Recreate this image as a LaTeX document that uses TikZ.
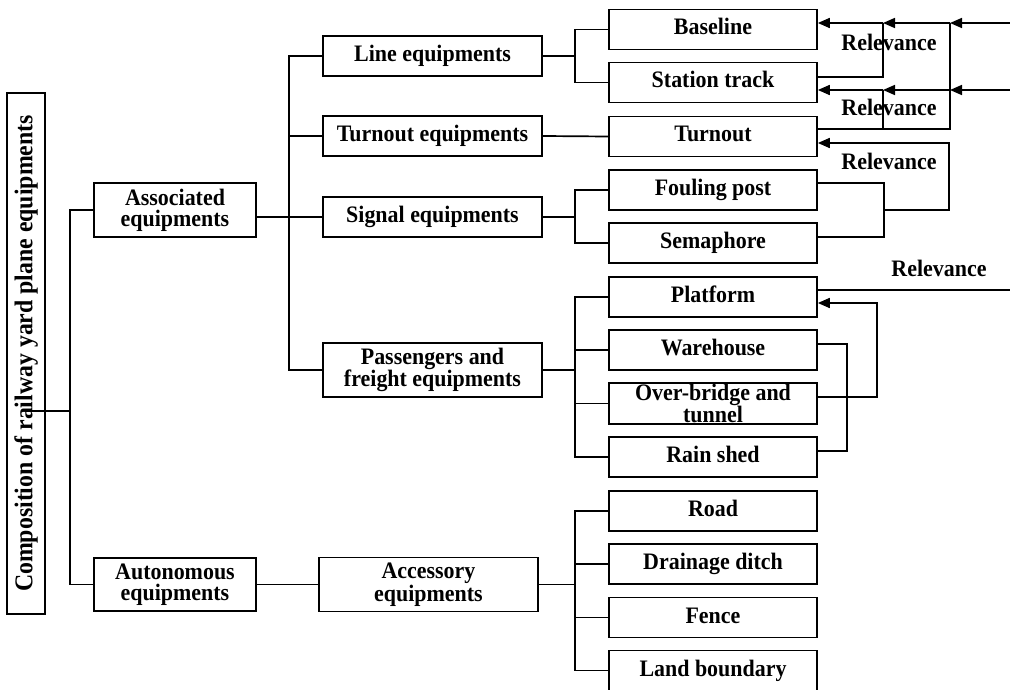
\documentclass[tikz,border=0pt]{standalone}
\usepackage{fontspec}
\setmainfont{Liberation Serif}[FakeStretch=0.93]
\usetikzlibrary{arrows.meta}
\begin{document}
\begin{tikzpicture}[x=1pt,y=-1pt,
  lw/.style={line width=1.7pt},
  txt/.style={font=\bfseries\fontsize{23.6}{21}\selectfont},
  box/.style={draw, lw, txt, inner sep=0pt, minimum width=208pt, minimum height=40pt, text height=16pt, text depth=5pt},
  midbox/.style={box, minimum width=219pt},
  twobox/.style={draw, lw, txt, inner sep=0pt, align=center, minimum height=54pt},
  conn/.style={lw},
  arr/.style={lw, -{Triangle[length=12pt,width=10pt]}},
  rel/.style={txt, inner sep=0pt}]
\useasboundingbox (0,0) rectangle (1010,690);

% root
\node[draw, lw, rotate=90, inner sep=0pt, minimum width=521pt, minimum height=38pt,
  font=\bfseries\fontsize{25.6}{25}\selectfont] (main) at (26,353.5) {Composition of railway yard plane equipments};

% level 1
\node[twobox, minimum width=162pt] (assoc) at (175,210) {Associated\\equipments};
\node[twobox, minimum width=162pt, minimum height=53pt] (auton) at (175,584.5) {Autonomous\\equipments};

% level 2
\node[midbox] (lineeq) at (432.5,56) {Line equipments};
\node[midbox] (turneq) at (432.5,136) {Turnout equipments};
\node[midbox] (sigeq) at (432.5,217) {Signal equipments};
\node[twobox, minimum width=219pt] (paseq) at (432.5,370) {Passengers and\\freight equipments};
\node[twobox, minimum width=219pt] (acceq) at (428.5,584.5) {Accessory\\equipments};

% level 3
\node[box] (baseline) at (713,29.5) {Baseline};
\node[box] (station) at (713,82.5) {Station track};
\node[box] (turnout) at (713,136.5) {Turnout};
\node[box] (fouling) at (713,190) {Fouling post};
\node[box] (semaphore) at (713,243) {Semaphore};
\node[box] (platform) at (713,297) {Platform};
\node[box] (warehouse) at (713,350) {Warehouse};
\node[draw, lw, txt, inner sep=0pt, align=center, minimum width=208pt, minimum height=41pt] (overbridge) at (713,403.5) {Over-bridge and\\tunnel};
\node[box] (rainshed) at (713,457) {Rain shed};
\node[box] (road) at (713,511) {Road};
\node[box] (drainage) at (713,564) {Drainage ditch};
\node[box] (fence) at (713,617.5) {Fence};
\node[box] (land) at (713,670.5) {Land boundary};

% tree junctions
\coordinate (rootJ) at (70,411);
\coordinate (assocJ) at (289,217);
\coordinate (lineJ) at (575,56);
\coordinate (sigJ) at (575,217);
\coordinate (pasJ) at (575,370);
\coordinate (accJ) at (575,584.5);

\draw[conn] (main.east |- rootJ) -- (rootJ);
\draw[conn] (assoc.west) -| (rootJ) |- (auton.west);
\draw[conn] (assoc.east |- sigeq.west) -- (sigeq.west);
\draw[conn] (lineeq.west) -| (assocJ) |- (paseq.west);
\draw[conn] (turneq.west) -- (turneq.west -| assocJ);
\draw[conn] (auton.east) -- (acceq.west);

\draw[conn] (lineeq.east) -- (lineJ);
\draw[conn] (baseline.west) -| (lineJ) |- (station.west);
\draw[conn] (turneq.east) -- (turnout.west);
\draw[conn] (sigeq.east) -- (sigJ);
\draw[conn] (fouling.west) -| (sigJ) |- (semaphore.west);
\draw[conn] (paseq.east) -- (pasJ);
\draw[conn] (platform.west) -| (pasJ) |- (rainshed.west);
\draw[conn] (warehouse.west) -- (warehouse.west -| pasJ);
\draw[conn] (overbridge.west) -- (overbridge.west -| pasJ);
\draw[conn] (acceq.east) -- (accJ);
\draw[conn] (road.west) -| (accJ) |- (land.west);
\draw[conn] (drainage.west) -- (drainage.west -| accJ);
\draw[conn] (fence.west) -- (fence.west -| accJ);

% relevance links
\coordinate (r1in) at (1010,23);
\coordinate (r1b) at (950,23);
\coordinate (r1a) at (883,23);
\coordinate (r2in) at (1010,90);
\coordinate (r2b) at (950,90);
\coordinate (r2a) at (883,90);
\coordinate (stJ) at (883,77);
\coordinate (tuJ) at (950,129);
\draw[arr] (r1in) -- (r1b);
\draw[arr] (r1b) -- (r1a);
\draw[arr] (r1a) -- (baseline.east |- r1a);
\draw[conn] (station.east |- stJ) -- (stJ) -- (r1a);
\draw[arr] (r2in) -- (r2b);
\draw[arr] (r2b) -- (r2a);
\draw[arr] (r2a) -- (station.east |- r2a);
\draw[conn] (turnout.east |- tuJ) -- (tuJ) -- (r1b);
\draw[conn] (r2a) -- (r2a |- tuJ);

\coordinate (fpJ) at (884,183);
\coordinate (smJ) at (884,237);
\coordinate (fsJ) at (884,210);
\coordinate (toJ) at (949,143);
\draw[conn] (fouling.east |- fpJ) -- (fpJ) -- (smJ) -- (semaphore.east |- smJ);
\draw[arr] (fsJ) -| (toJ) -- (turnout.east |- toJ);

\coordinate (plOut) at (1010,290);
\coordinate (obJ) at (877,397);
\coordinate (plJ) at (877,303);
\coordinate (whJ) at (847,344);
\coordinate (rsJ) at (847,451);
\draw[conn] (platform.east |- plOut) -- (plOut);
\draw[arr] (overbridge.east |- obJ) -- (obJ) -- (plJ) -- (platform.east |- plJ);
\draw[conn] (warehouse.east |- whJ) -- (whJ) -- (rsJ) -- (rainshed.east |- rsJ);

% labels
\node[rel] (rl1) at (889,42) {Relevance};
\node[rel] (rl2) at (889,107) {Relevance};
\node[rel] (rl3) at (889,161) {Relevance};
\node[rel] (rl4) at (939,268) {Relevance};
\end{tikzpicture}
\end{document}
